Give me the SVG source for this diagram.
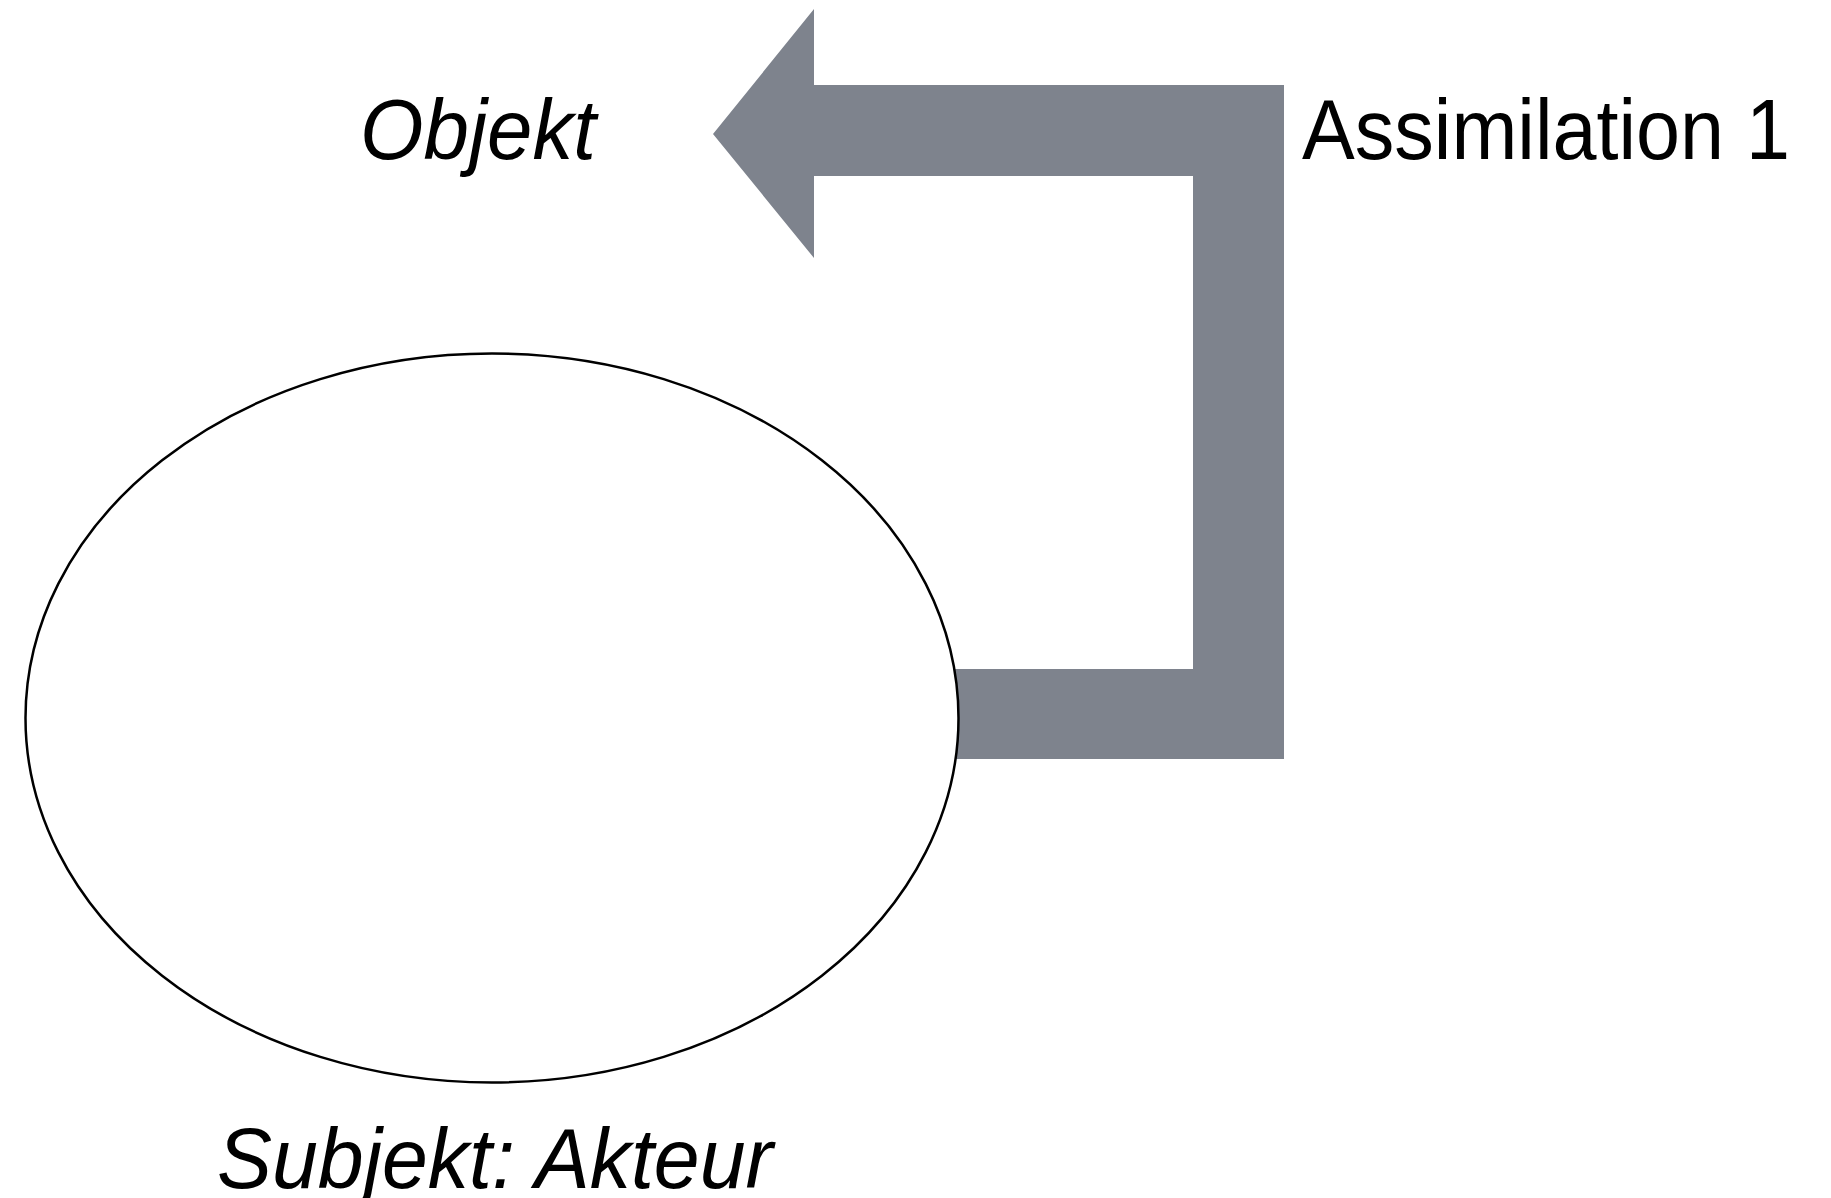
<svg xmlns="http://www.w3.org/2000/svg" width="1831" height="1198" viewBox="0 0 1831 1198">
<style>
.lbl{font-family:"Liberation Sans",Arial,sans-serif;font-size:86px;fill:#000}
.it{font-style:italic}
</style>
<rect width="1831" height="1198" fill="#fff"/>
<g id="connectors">
<polygon points="713,134 814,9 814,85 1284,85 1284,759 940,759 940,669 1193,669 1193,176 814,176 814,258" fill="#7e838d"/>
</g>
<g id="subjekt">
<ellipse cx="492" cy="718" rx="466.5" ry="364.5" fill="#fff" stroke="#000" stroke-width="2.5"/>
<text class="lbl it" x="217" y="1188" textLength="556" lengthAdjust="spacingAndGlyphs">Subjekt: Akteur</text>
</g>
<g id="objekt">
<text class="lbl it" x="360" y="159" textLength="236" lengthAdjust="spacingAndGlyphs">Objekt</text>
</g>
<g id="assimilation">
<text class="lbl" x="1302" y="159" textLength="488" lengthAdjust="spacingAndGlyphs">Assimilation 1</text>
</g>
</svg>
